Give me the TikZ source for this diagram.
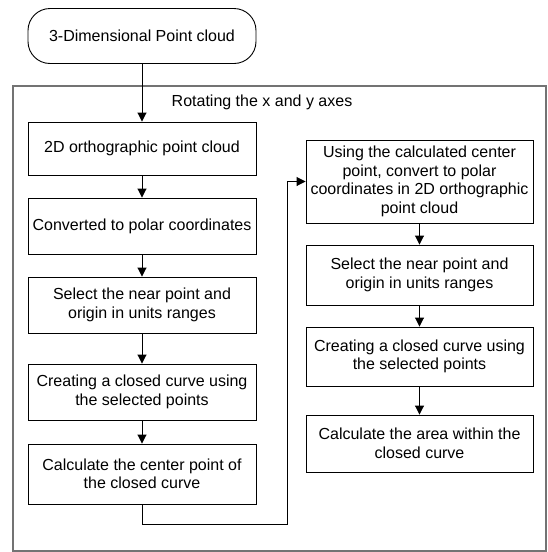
\documentclass[tikz,border=0pt]{standalone}
\usepackage{fontspec}
\setmainfont{Liberation Sans}
\usetikzlibrary{arrows.meta}
\begin{document}
\begin{tikzpicture}[x=1pt,y=-1pt,
  every node/.style={font=\fontsize{16}{18.5}\selectfont},
  stepbox/.style={draw=black,line width=0.9pt,rectangle,align=center,inner sep=0pt},
  startbox/.style={draw=black,line width=0.9pt,rectangle,rounded corners=22pt,align=center,inner sep=0pt,minimum width=228pt,minimum height=55pt},
  frame/.style={draw=black!55,line width=1.3pt},
  arr/.style={draw=black,line width=0.9pt,-{Triangle[length=9pt,width=9pt]}},
  conn/.style={draw=black,line width=0.9pt}]
\useasboundingbox (0,0) rectangle (548,552);
% outer frame
\draw[frame] (13,86) rectangle (546,551);
\node (title) at (262,102) {Rotating the x and y axes};
% start
\node[startbox] (start) at (142,36) {3-Dimensional Point cloud};
% left column
\node[stepbox,minimum width=228pt,minimum height=53pt] (b1) at (142,148.5) {2D orthographic point cloud};
\node[stepbox,minimum width=228pt,minimum height=56pt] (b2) at (142,226) {Converted to polar coordinates};
\node[stepbox,minimum width=228pt,minimum height=56pt] (b3) at (142,305) {Select the near point and\\origin in units ranges};
\node[stepbox,minimum width=228pt,minimum height=56pt] (b4) at (142,392) {Creating a closed curve using\\the selected points};
\node[stepbox,minimum width=228pt,minimum height=60pt] (b5) at (142,474) {Calculate the center point of\\the closed curve};
% right column
\node[stepbox,minimum width=227pt,minimum height=83pt] (r1) at (419.5,181.5) {Using the calculated center\\point, convert to polar\\coordinates in 2D orthographic\\point cloud};
\node[stepbox,minimum width=227pt,minimum height=60pt] (r2) at (419.5,275) {Select the near point and\\origin in units ranges};
\node[stepbox,minimum width=227pt,minimum height=59pt] (r3) at (419.5,356.5) {Creating a closed curve using\\the selected points};
\node[stepbox,minimum width=227pt,minimum height=57pt] (r4) at (419.5,443.5) {Calculate the area within the\\closed curve};
% connectors
\draw[arr] (start) -- (b1);
\draw[arr] (b1) -- (b2);
\draw[arr] (b2) -- (b3);
\draw[arr] (b3) -- (b4);
\draw[arr] (b4) -- (b5);
\coordinate (loop) at (287,524);
\draw[arr] (b5.south) |- (loop) |- (r1.west);
\draw[arr] (r1) -- (r2);
\draw[arr] (r2) -- (r3);
\draw[arr] (r3) -- (r4);
\end{tikzpicture}
\end{document}
